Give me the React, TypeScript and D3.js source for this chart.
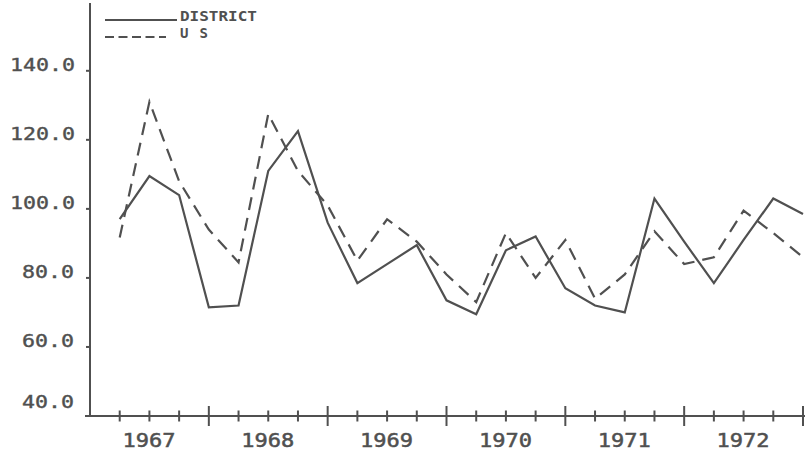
import React from "react";
import * as d3 from "d3";

const years = ["1967", "1968", "1969", "1970", "1971", "1972"];
const yTicks = [40, 60, 80, 100, 120, 140];
const district = [97, 109.5, 104, 71.5, 72, 111, 122.5, 96, 78.5, 84, 89.5, 73.5, 69.5, 88, 92, 77, 72, 70, 103, 90.5, 78.5, 91, 103, 98.5];
const us = [91.7, 131, 108, 94, 84.5, 127.5, 111, 101, 85, 97, 90.5, 81, 73, 93, 80, 91, 74, 81, 93.5, 84, 86, 99.5, 93, 86];
const seriesNames = ["DISTRICT", "U S"];

const W = 805;
const H = 455;
const col = "#505050";
const font = "'DejaVu Sans Mono', monospace";

export default function App() {
  const x = d3.scaleLinear().domain([0, 24]).range([90, 803]);
  const y = d3.scaleLinear().domain([40, 140]).range([416, 70.8]);
  const line = d3
    .line<number>()
    .x((_, i) => x(i + 1))
    .y((d) => y(d));
  const quarters = d3.range(1, 25);
  return (
    <svg
      width={W}
      height={H}
      style={{ position: "absolute", left: 0, top: 0, background: "#fff" }}
    >
      {/* axes */}
      <line x1={90} x2={90} y1={3} y2={y(40)} stroke={col} strokeWidth={2} />
      <line x1={85} x2={805} y1={y(40)} y2={y(40)} stroke={col} strokeWidth={2} />
      {yTicks.map((t) => (
        <g key={t}>
          <line x1={86} x2={90} y1={y(t)} y2={y(t)} stroke={col} strokeWidth={2} />
          <text
            x={t >= 100 ? 10 : 22}
            y={y(t) + (t === 40 ? -8 : 0)}
            fontFamily={font}
            fontSize={18}
            fill={col}
            stroke={col}
            strokeWidth={0.4}
            textLength={t >= 100 ? 65 : 52}
            lengthAdjust="spacingAndGlyphs"
          >
            {t.toFixed(1)}
          </text>
        </g>
      ))}
      {quarters.map((q) => {
        const major = q % 4 === 0;
        return (
          <line
            key={q}
            x1={x(q)}
            x2={x(q)}
            y1={y(40) - (major ? 10 : 5.5)}
            y2={y(40) + (major ? 10 : 5.5)}
            stroke={col}
            strokeWidth={2}
          />
        );
      })}
      {years.map((yr, i) => (
        <text
          key={yr}
          x={x(i * 4 + 2) - 27}
          y={447}
          fontFamily={font}
          fontSize={20}
          fill={col}
          stroke={col}
          strokeWidth={0.5}
          textLength={53}
          lengthAdjust="spacingAndGlyphs"
        >
          {yr}
        </text>
      ))}
      {/* series */}
      <path d={line(district) || ""} fill="none" stroke={col} strokeWidth={2.2} strokeLinejoin="miter" />
      <path d={line(us) || ""} fill="none" stroke={col} strokeWidth={2.2} strokeDasharray="13 8" />
      {/* legend */}
      <line x1={105} x2={177} y1={20} y2={20} stroke={col} strokeWidth={2} />
      <line x1={105} x2={166} y1={37} y2={37} stroke={col} strokeWidth={2} strokeDasharray="9 4.5" />
      <text x={180} y={21} fontFamily={font} fontSize={14} fontWeight="bold" fill={col} textLength={77} lengthAdjust="spacingAndGlyphs">
        {seriesNames[0]}
      </text>
      <text x={180} y={38} fontFamily={font} fontSize={14} fontWeight="bold" fill={col} textLength={28} lengthAdjust="spacing">
        {seriesNames[1]}
      </text>
    </svg>
  );
}
